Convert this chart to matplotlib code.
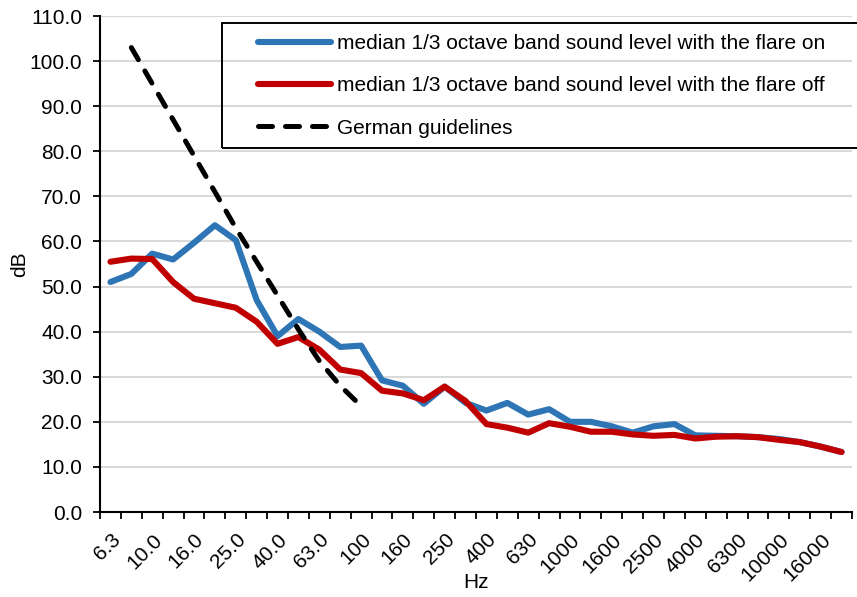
import matplotlib as mpl
mpl.use('Agg')
import matplotlib.pyplot as plt
from matplotlib.patches import Rectangle
import numpy as np

plt.rcParams['font.family'] = ['Liberation Sans', 'DejaVu Sans']

# 1/3 octave band centre frequencies (Hz)
freqs = ['6.3', '8.0', '10.0', '12.5', '16.0', '20.0', '25.0', '31.5', '40.0', '50.0',
         '63.0', '80.0', '100', '125', '160', '200', '250', '315', '400', '500',
         '630', '800', '1000', '1250', '1600', '2000', '2500', '3150', '4000', '5000',
         '6300', '8000', '10000', '12500', '16000', '20000']

flare_on = [51.0, 52.8, 57.3, 56.0, 59.7, 63.6, 60.3, 47.0, 39.0, 42.8,
            40.0, 36.6, 36.9, 29.2, 28.0, 24.0, 27.8, 24.2, 22.5, 24.2,
            21.6, 22.8, 20.0, 20.0, 19.0, 17.6, 19.0, 19.5, 17.0, 16.9,
            16.8, 16.6, 16.2, 15.5, 14.5, 13.3]

flare_off = [55.5, 56.2, 56.1, 51.0, 47.3, 46.3, 45.3, 42.2, 37.3, 38.8,
             36.0, 31.6, 30.8, 26.9, 26.3, 24.8, 27.8, 24.6, 19.5, 18.7,
             17.6, 19.7, 18.9, 17.8, 17.8, 17.2, 16.9, 17.1, 16.3, 16.7,
             16.8, 16.6, 16.0, 15.5, 14.5, 13.3]

# German guidelines, 8 Hz .. 100 Hz
german_freqs = ['8.0', '10.0', '12.5', '16.0', '20.0', '25.0', '31.5', '40.0', '50.0', '63.0', '80.0', '100']
german = [103.0, 95.0, 87.0, 79.0, 71.0, 63.0, 55.5, 48.0, 40.5, 33.5, 28.0, 23.5]

x = np.arange(len(freqs))
xg = np.array([freqs.index(f) for f in german_freqs])

fs = 15
W, H = 857, 597
fig = plt.figure(figsize=(W / 100, H / 100), dpi=100)
ax = fig.add_axes([100 / W, 1 - 512 / H, 752 / W, 496 / H])

ax.plot(x, flare_on, color='#2E75B6', lw=4.4, solid_capstyle='round', solid_joinstyle='round',
        label='median 1/3 octave band sound level with the flare on', zorder=3)
ax.plot(x, flare_off, color='#C00000', lw=4.4, solid_capstyle='round', solid_joinstyle='round',
        label='median 1/3 octave band sound level with the flare off', zorder=4)
ax.plot(xg, german, color='black', lw=3.6, dashes=(2.8, 2.6), dash_capstyle='round',
        label='German guidelines', zorder=5)

ax.set_xlim(-0.5, len(freqs) - 0.5)
ax.set_ylim(0, 110)
ax.set_yticks(np.arange(0, 111, 10))
ax.set_yticklabels(['%.1f' % v for v in np.arange(0, 111, 10)], fontsize=fs)
ax.set_xticks(x[::2])
ax.set_xticklabels(freqs[::2], rotation=45, ha='right', va='top', rotation_mode='anchor', fontsize=fs)
ax.set_xticks(np.arange(-0.5, len(freqs), 1), minor=True)
ax.tick_params(axis='x', which='major', length=0, pad=13)
ax.tick_params(axis='x', which='minor', length=5, width=1.3, direction='out')
ax.tick_params(axis='y', length=5, width=1.3, direction='out', pad=8)

ax.yaxis.grid(True, color='#d9d9d9', lw=1.5)
ax.set_axisbelow(True)
for s in ['top', 'right']:
    ax.spines[s].set_visible(False)
for s in ['left', 'bottom']:
    ax.spines[s].set_linewidth(1.5)

ax.set_ylabel('dB', fontsize=fs, va='center')
ax.yaxis.set_label_coords(20 / W, 1 - 264 / H, transform=fig.transFigure)
ax.set_xlabel('Hz', fontsize=fs, va='center')
ax.xaxis.set_label_coords(476 / W, 1 - 582 / H, transform=fig.transFigure)

# legend frame runs off the right edge of the figure, as in the original
fig.patches.append(Rectangle((222 / W, 1 - 148 / H), 700 / W, 125 / H, transform=fig.transFigure,
                             fill=False, edgecolor='black', lw=1.4, zorder=10))
leg = ax.legend(loc='upper left', bbox_to_anchor=(258 / W, 1 - 34 / H),
                bbox_transform=fig.transFigure, fontsize=fs, frameon=False,
                handlelength=3.5, handletextpad=0.3, labelspacing=1.12,
                borderpad=0, borderaxespad=0)

fig.savefig('out.png', dpi=100)
